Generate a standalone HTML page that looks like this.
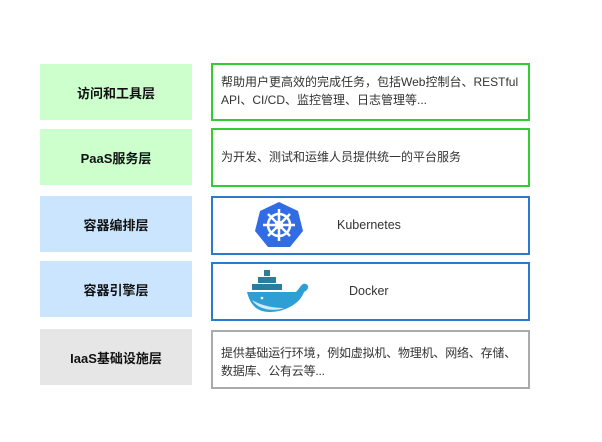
<!DOCTYPE html>
<html><head><meta charset="utf-8"><style>
body{margin:0;width:602px;height:442px;background:#fff;position:relative;font-family:"Liberation Sans","Noto Sans CJK SC",sans-serif;overflow:hidden}
.l{position:absolute;left:40px;width:152px;height:56px;display:flex;align-items:center;justify-content:center;font-weight:bold;font-size:13px;color:#111}
.r{position:absolute;left:211px;width:319px;box-sizing:border-box;font-size:12px;color:#333;line-height:18px;padding:0 8px}
.g{background:#ccffcc}.b{background:#cce5ff}.x{background:#e6e6e6}
.rg{border:2px solid #33cc33}.rb{border:2px solid #2a7ad0}.rx{border:2px solid #aaa}
</style></head><body>
<div class="l g" style="top:64px">访问和工具层</div>
<div class="l g" style="top:129px">PaaS服务层</div>
<div class="l b" style="top:196px">容器编排层</div>
<div class="l b" style="top:261px">容器引擎层</div>
<div class="l x" style="top:329px">IaaS基础设施层</div>

<div class="r rg" style="top:63px;height:58px;padding-top:8px">帮助用户更高效的完成任务，包括Web控制台、RESTful API、CI/CD、监控管理、日志管理等...</div>
<div class="r rg" style="top:128px;height:59px;padding-top:18px">为开发、测试和运维人员提供统一的平台服务</div>
<div class="r rb" style="top:196px;height:59px"></div>
<div class="r rb" style="top:262px;height:59px"></div>
<div class="r rx" style="top:330px;height:59px;padding-top:12px;padding-right:2px;letter-spacing:-0.2px">提供基础运行环境，例如虚拟机、物理机、网络、存储、<br>数据库、公有云等...</div>

<svg style="position:absolute;left:252px;top:200px" width="54" height="50" viewBox="0 0 54 50">
<polygon points="27,2 46,11 51,31 38,47 16,47 3,31 8,11" fill="#326ce5"/>
<g stroke="#fff" stroke-width="2.5" fill="none"><circle cx="27" cy="25" r="11"/><circle cx="27" cy="25" r="3" fill="#fff"/>
<line x1="27" y1="9" x2="27" y2="41"/><line x1="11" y1="25" x2="43" y2="25"/><line x1="16" y1="14" x2="38" y2="36"/><line x1="38" y1="14" x2="16" y2="36"/></g>
</svg>
<div style="position:absolute;left:337px;top:218px;font-size:12.5px;color:#333">Kubernetes</div>

<svg style="position:absolute;left:244px;top:268px" width="70" height="46" viewBox="0 0 70 46">
<g fill="#2b7d9e"><rect x="20" y="2" width="6" height="6"/><rect x="14" y="9" width="6" height="6"/><rect x="20" y="9" width="6" height="6"/><rect x="26" y="9" width="6" height="6"/><rect x="8" y="16" width="6" height="6"/><rect x="14" y="16" width="6" height="6"/><rect x="20" y="16" width="6" height="6"/><rect x="26" y="16" width="6" height="6"/><rect x="32" y="16" width="6" height="6"/></g>
<path d="M3,24 H52 C56,20 58,14 62,16 C66,18 64,22 60,24 C56,36 40,44 26,44 C12,44 6,36 3,24Z" fill="#2e9fd4"/>
<path d="M8,32 C14,42 30,44 40,40 C30,40 18,38 8,32Z" fill="#cfe8f3"/>
<circle cx="18" cy="30" r="1.3" fill="#fff"/>
</svg>
<div style="position:absolute;left:349px;top:284px;font-size:12.5px;color:#333">Docker</div>
</body></html>
